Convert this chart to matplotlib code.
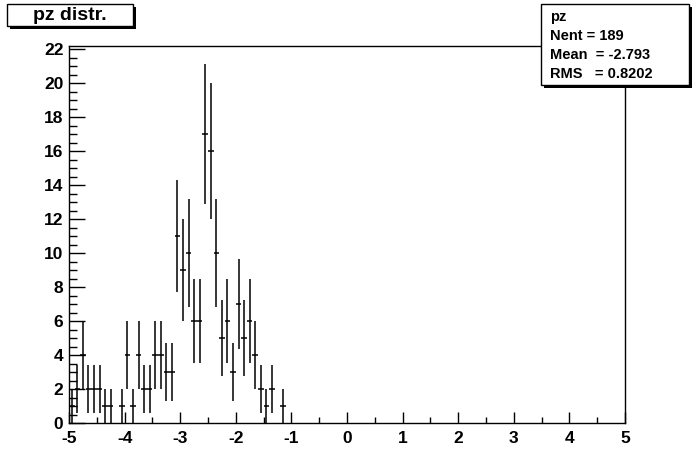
import numpy as np
import matplotlib
matplotlib.use("Agg")
import matplotlib.pyplot as plt
from matplotlib.patches import Rectangle
from matplotlib.ticker import MultipleLocator

plt.rcParams["axes.unicode_minus"] = False

# ---- data (histogram "pz", 100 bins from -5 to 5) ----
x_min, x_max, n_bins = -5.0, 5.0, 100
# contents of the first 39 bins (-5.0 ... -1.1); all later bins are empty
counts = [1, 2, 4, 2, 2, 2, 1, 1, 0, 1,
          4, 1, 4, 2, 2, 4, 4, 3, 3, 11,
          9, 10, 6, 6, 17, 16, 10, 5, 6, 3,
          7, 5, 6, 4, 2, 1, 2, 0, 1]
title = "pz distr."
stats_lines = ["pz", "Nent = 189", "Mean  = -2.793", "RMS   = 0.8202"]
x_ticks = [-5, -4, -3, -2, -1, 0, 1, 2, 3, 4, 5]
y_ticks = [0, 2, 4, 6, 8, 10, 12, 14, 16, 18, 20, 22]

W, H = 696, 472
fig = plt.figure(figsize=(W / 100, H / 100), dpi=100)
fig.patch.set_facecolor("white")
FONT = "Liberation Sans"

def fx(px):
    return px / W

def fy(py):
    return 1 - py / H

ax = fig.add_axes([fx(69), fy(423), fx(625) - fx(69), fy(46) - fy(423)])

edges = np.linspace(x_min, x_max, n_bins + 1)
centers = 0.5 * (edges[:-1] + edges[1:])[:len(counts)]
vals = np.array(counts, dtype=float)
mask = vals > 0
ax.errorbar(centers[mask], vals[mask], yerr=np.sqrt(vals[mask]),
            xerr=(x_max - x_min) / n_bins / 2, fmt="none",
            ecolor="black", elinewidth=1.1, capsize=0)

ax.set_xlim(x_min, x_max)
ax.set_ylim(0, 22.18)
ax.set_xticks(x_ticks)
ax.set_yticks(y_ticks)
ax.xaxis.set_minor_locator(MultipleLocator(0.5))
ax.yaxis.set_minor_locator(MultipleLocator(0.5))
ax.tick_params(axis="x", which="major", direction="in", length=8, width=1, pad=6)
ax.tick_params(axis="x", which="minor", direction="in", length=4.3, width=1)
ax.tick_params(axis="y", which="major", direction="in", length=11.5, width=1, pad=4)
ax.tick_params(axis="y", which="minor", direction="in", length=5.8, width=1)
for lab in ax.get_xticklabels() + ax.get_yticklabels():
    lab.set_fontfamily(FONT)
    lab.set_fontweight("bold")
    lab.set_fontsize(12.5)
for s in ax.spines.values():
    s.set_linewidth(1)
    s.set_color("black")

# ---- boxes with shadow ----
def shadow_box(x0, y0, x1, y1, off=3):
    fig.add_artist(Rectangle((fx(x0 + off), fy(y1 + off)), fx(x1 - x0), fy(y0) - fy(y1),
                             transform=fig.transFigure, facecolor="black",
                             edgecolor="black", lw=0, zorder=5))
    fig.add_artist(Rectangle((fx(x0), fy(y1)), fx(x1 - x0), fy(y0) - fy(y1),
                             transform=fig.transFigure, facecolor="white",
                             edgecolor="black", lw=1, zorder=6))

shadow_box(7, 4, 133, 26)
fig.text(fx(70), fy(15), title, ha="center", va="center", family=FONT,
         weight="bold", fontsize=14, zorder=7)

shadow_box(541, 4, 689, 85)
line_y = [17, 36, 55, 74]
for txt, yy in zip(stats_lines, line_y):
    fig.text(fx(550), fy(yy), txt, ha="left", va="center", family=FONT,
             weight="bold", fontsize=10.5, zorder=7)

fig.savefig("out.png", dpi=100)
